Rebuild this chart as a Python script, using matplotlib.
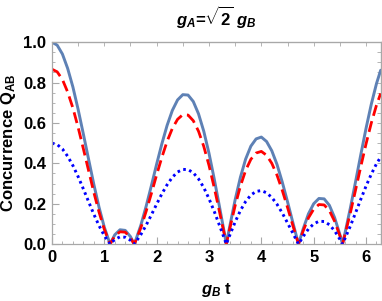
import numpy as np
import matplotlib
matplotlib.use("Agg")
import matplotlib.pyplot as plt
from matplotlib.ticker import MultipleLocator, NullFormatter, FormatStrFormatter

# ====================================
# DATA
# ====================================

t_vals = [
    0.0, 0.1, 0.2, 0.3, 0.4, 0.5, 0.6, 0.7, 0.8, 0.9, 1.0,
    1.11,
    1.2, 1.3, 1.4, 1.5,
    1.57,
    1.6, 1.7, 1.8, 1.9, 2.0, 2.1, 2.2, 2.3, 2.4, 2.5, 2.6, 2.7, 2.8, 2.9,
    3.0, 3.1, 3.2, 3.3,
    3.33,
    3.4, 3.5, 3.6, 3.7, 3.8, 3.9, 4.0, 4.1, 4.2, 4.3, 4.4, 4.5, 4.6,
    4.71,
    4.8, 4.9, 5.0, 5.1, 5.2, 5.3, 5.4, 5.5,
    5.55,
    5.6, 5.7, 5.8, 5.9, 6.0, 6.1, 6.2,
    6.28,
]

q_solid = [
    1.000, 0.985, 0.941, 0.870, 0.778, 0.667, 0.545, 0.420, 0.296, 0.182, 0.084,
    0.0,
    0.046, 0.071, 0.068, 0.037,
    0.0,
    0.019, 0.095, 0.188, 0.290, 0.396, 0.497, 0.588, 0.662, 0.714, 0.740, 0.738, 0.706, 0.645, 0.559,
    0.450, 0.323, 0.186, 0.046,
    0.0,
    0.092, 0.220, 0.331, 0.421, 0.485, 0.521, 0.530, 0.508, 0.462, 0.394, 0.307, 0.210, 0.109,
    0.0,
    0.076, 0.150, 0.200, 0.226, 0.224, 0.192, 0.131, 0.048,
    0.0,
    0.057, 0.178, 0.309, 0.443, 0.573, 0.692, 0.795,
    0.861,
]

q_dashed = [
    0.866, 0.853, 0.815, 0.753, 0.674, 0.578, 0.472, 0.364, 0.256, 0.158, 0.073,
    0.0,
    0.040, 0.061, 0.059, 0.032,
    0.0,
    0.016, 0.082, 0.163, 0.251, 0.343, 0.430, 0.509, 0.573, 0.618, 0.641, 0.639, 0.611, 0.559, 0.484,
    0.390, 0.280, 0.161, 0.040,
    0.0,
    0.080, 0.191, 0.287, 0.365, 0.420, 0.451, 0.459, 0.440, 0.400, 0.341, 0.266, 0.182, 0.094,
    0.0,
    0.066, 0.130, 0.173, 0.196, 0.194, 0.166, 0.113, 0.042,
    0.0,
    0.049, 0.154, 0.268, 0.384, 0.496, 0.599, 0.688,
    0.746,
]

q_dotted = [
    0.500, 0.493, 0.471, 0.435, 0.389, 0.334, 0.273, 0.210, 0.148, 0.091, 0.042,
    0.0,
    0.023, 0.036, 0.034, 0.019,
    0.0,
    0.010, 0.048, 0.094, 0.145, 0.198, 0.249, 0.294, 0.331, 0.357, 0.370, 0.369, 0.353, 0.323, 0.280,
    0.225, 0.162, 0.093, 0.023,
    0.0,
    0.046, 0.110, 0.166, 0.211, 0.243, 0.261, 0.265, 0.254, 0.231, 0.197, 0.154, 0.105, 0.055,
    0.0,
    0.038, 0.075, 0.100, 0.113, 0.112, 0.096, 0.066, 0.024,
    0.0,
    0.029, 0.089, 0.155, 0.222, 0.287, 0.346, 0.398,
    0.431,
]

# ====================================
# STYLE
# ====================================

plt.rcParams["font.family"] = ["Liberation Sans", "DejaVu Sans"]
plt.rcParams["font.weight"] = "bold"
plt.rcParams["mathtext.fontset"] = "custom"
plt.rcParams["mathtext.rm"] = "Liberation Sans:bold"
plt.rcParams["mathtext.bf"] = "Liberation Sans:bold"
plt.rcParams["mathtext.it"] = "Liberation Sans:italic:bold"

frame_gray = "#a8a8a8"

# ====================================
# PLOT
# ====================================

fig = plt.figure(figsize=(3.82, 3.01), dpi=100)
ax = fig.add_axes([0.136, 0.189, 0.861, 0.671])

ax.plot(t_vals, q_solid, color="#5E81B5", lw=2.1, solid_capstyle="round")
ax.plot(t_vals, q_dashed, color="#FF0000", lw=2.0, dashes=(4.0, 2.0))
ax.plot(t_vals, q_dotted, color="#0000FF", lw=2.1, dashes=(0.9, 1.2))

ax.set_xlim(0, 2 * np.pi)
ax.set_ylim(0, 1.0)

ax.xaxis.set_major_locator(MultipleLocator(1))
ax.xaxis.set_minor_locator(MultipleLocator(0.2))
ax.yaxis.set_major_locator(MultipleLocator(0.2))
ax.yaxis.set_minor_locator(MultipleLocator(0.05))
ax.yaxis.set_major_formatter(FormatStrFormatter("%.1f"))

ax.tick_params(which="both", direction="in", color=frame_gray,
               labelsize=12, pad=4)
ax.tick_params(which="major", length=5, width=0.8)
ax.tick_params(which="minor", length=2.5, width=0.6)
for lab in ax.get_xticklabels() + ax.get_yticklabels():
    lab.set_fontweight("bold")

# top / right frame ticks, no labels
top = ax.secondary_xaxis("top")
top.xaxis.set_major_locator(MultipleLocator(0.5))
top.xaxis.set_major_formatter(NullFormatter())
top.tick_params(direction="in", color=frame_gray, length=3, width=0.6)
top.spines["top"].set_color(frame_gray)

right = ax.secondary_yaxis("right")
right.yaxis.set_major_locator(MultipleLocator(0.05))
right.yaxis.set_major_formatter(NullFormatter())
right.tick_params(direction="in", color=frame_gray, length=3, width=0.6)
right.spines["right"].set_color(frame_gray)

for sp in ax.spines.values():
    sp.set_color(frame_gray)
    sp.set_linewidth(0.9)

ax.set_title(r"$g_A$=$\sqrt{2}\ g_B$", fontsize=12, fontweight="bold", pad=12)
ax.set_ylabel(r"Concurrence Q$_{\rm AB}$", fontsize=12, fontweight="bold", labelpad=4)
ax.set_xlabel(r"$g_B$ t", fontsize=12, fontweight="bold", labelpad=12)

fig.savefig("out.png", dpi=100)
